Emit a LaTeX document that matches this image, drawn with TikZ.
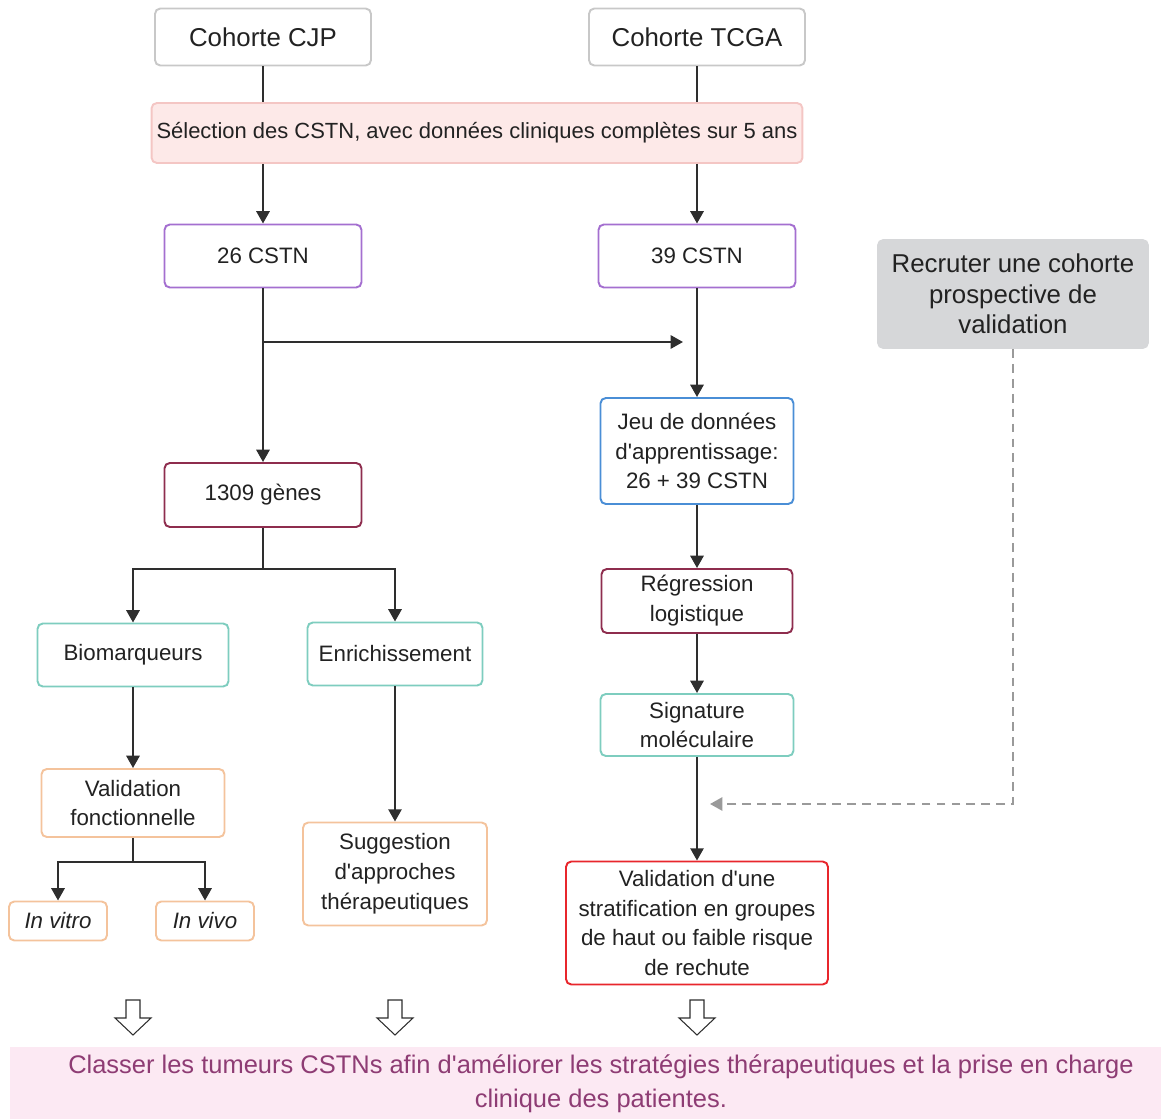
\documentclass[tikz,border=0pt]{standalone}
\usepackage{fontspec}
\setmainfont{Liberation Sans}
\usetikzlibrary{arrows.meta}

\definecolor{txtgray}{HTML}{222222}
\definecolor{linegray}{HTML}{2E2E2E}
\definecolor{boxgray}{HTML}{C8C8C8}
\definecolor{selfill}{HTML}{FDE9E8}
\definecolor{seldraw}{HTML}{F4C6C4}
\definecolor{cstnpurple}{HTML}{A46FD0}
\definecolor{maroon}{HTML}{8E2D4E}
\definecolor{tealc}{HTML}{7ECDBF}
\definecolor{orangec}{HTML}{F4C39C}
\definecolor{bluec}{HTML}{4A8ED6}
\definecolor{redc}{HTML}{E8262C}
\definecolor{recfill}{HTML}{D6D7D9}
\definecolor{dashgray}{HTML}{9A9A9A}
\definecolor{goalfill}{HTML}{FCE9F3}
\definecolor{goaltext}{HTML}{8E3C74}

\newcommand{\apos}{\textquotesingle}

\tikzset{
  box/.style={draw, rounded corners=3pt, line width=1.1pt, fill=white, align=center,
    text=txtgray, font=\fontsize{12.7}{17}\selectfont, inner sep=2pt},
  flow/.style={draw=linegray, line width=1.3pt, -{Triangle[length=7pt,width=7.5pt]}},
  link/.style={draw=linegray, line width=1.3pt},
}

\begin{document}
\begin{tikzpicture}[x=0.02cm, y=-0.02cm]
  \useasboundingbox (0,0) rectangle (1161,1119);

  % cohortes
  \node[box, draw=boxgray, minimum width=4.32cm, minimum height=1.14cm,
    font=\fontsize{14.7}{17}\selectfont] (cjp) at (263,37) {Cohorte CJP};
  \node[box, draw=boxgray, minimum width=4.32cm, minimum height=1.14cm,
    font=\fontsize{14.7}{17}\selectfont] (tcga) at (697,37) {Cohorte TCGA};
  \node[box, draw=seldraw, fill=selfill, minimum width=13.02cm, minimum height=1.2cm,
    inner xsep=0.5pt, font=\fontsize{12.5}{17}\selectfont] (sel)
    at (477,133) {Sélection des CSTN, avec données cliniques complètes sur 5 ans};

  \node[box, draw=cstnpurple, minimum width=3.94cm, minimum height=1.26cm] (cstna) at (263,256) {26 CSTN};
  \node[box, draw=cstnpurple, minimum width=3.94cm, minimum height=1.26cm] (cstnb) at (697,256) {39 CSTN};

  % branche droite
  \node[box, draw=bluec, minimum width=3.86cm, minimum height=2.12cm] (train) at (697,451)
    {Jeu de données\\ d\apos apprentissage:\\ 26 + 39 CSTN};
  \node[box, draw=maroon, minimum width=3.82cm, minimum height=1.28cm] (reg) at (697,601)
    {Régression\\ logistique};
  \node[box, draw=tealc, minimum width=3.86cm, minimum height=1.24cm] (sig) at (697,725)
    {Signature\\ moléculaire};
  \node[box, draw=redc, minimum width=5.24cm, minimum height=2.46cm] (valid) at (697,923)
    {Validation d\apos une\\ stratification en groupes\\ de haut ou faible risque\\ de rechute};
  \node[box, draw=recfill, fill=recfill, minimum width=5.4cm, minimum height=2.16cm,
    font=\fontsize{14.7}{17.5}\selectfont] (recruit) at (1013,294)
    {Recruter une cohorte\\ prospective de\\ validation};

  % branche gauche
  \node[box, draw=maroon, minimum width=3.94cm, minimum height=1.28cm] (genes) at (263,495) {1309 gènes};
  \node[box, draw=tealc, minimum width=3.82cm, minimum height=1.26cm] (bio) at (133,655) {Biomarqueurs};
  \node[box, draw=tealc, minimum width=3.5cm, minimum height=1.26cm] (enrich) at (395,654) {Enrichissement};
  \node[box, draw=orangec, minimum width=3.66cm, minimum height=1.36cm] (valfonc) at (133,803)
    {Validation\\ fonctionnelle};
  \node[box, draw=orangec, minimum width=1.96cm, minimum height=0.78cm] (vitro) at (58,921) {\itshape In vitro};
  \node[box, draw=orangec, minimum width=1.96cm, minimum height=0.78cm] (vivo) at (205,921) {\itshape In vivo};
  \node[box, draw=orangec, minimum width=3.68cm, minimum height=2.06cm] (sugg) at (395,874)
    {Suggestion\\ d\apos approches\\ thérapeutiques};

  % objectif
  \fill[goalfill] (10,1047) rectangle (1161,1119);
  \node[align=center, text=goaltext, font=\fontsize{14.5}{19.3}\selectfont] (goal) at (601,1084)
    {Classer les tumeurs CSTNs afin d\apos améliorer les stratégies thérapeutiques et la prise en charge\\ clinique des patientes.};

  \coordinate (mid) at (263,342);
  \coordinate (joinR) at (683,342);
  \coordinate (splitG) at (263,569);
  \coordinate (splitV) at (133,862);
  \coordinate (dashend) at (710,804);

  \draw[link] (cjp) -- (cjp |- sel.north);
  \draw[link] (tcga) -- (tcga |- sel.north);
  \draw[flow] (cjp |- sel.south) -- (cstna);
  \draw[flow] (tcga |- sel.south) -- (cstnb);
  \draw[flow] (cstna) -- (genes);
  \draw[flow] (mid) -- (joinR);
  \draw[flow] (cstnb) -- (train);
  \draw[flow] (train) -- (reg);
  \draw[flow] (reg) -- (sig);
  \draw[flow] (sig) -- (valid);
  \draw[link] (genes) -- (splitG);
  \draw[flow] (splitG) -| (bio);
  \draw[flow] (splitG) -| (enrich);
  \draw[flow] (bio) -- (valfonc);
  \draw[flow] (enrich) -- (sugg);
  \draw[link] (valfonc) -- (splitV);
  \draw[flow] (splitV) -| (vitro);
  \draw[flow] (splitV) -| (vivo);
  \draw[draw=dashgray, line width=1.1pt, dash pattern=on 5pt off 3.5pt,
    -{Triangle[length=7pt,width=7.5pt]}] (recruit.south) |- (dashend);

  % fleches creuses
  \foreach \x in {133,395,697}
    \draw[draw=linegray, line width=0.6pt, fill=white]
      (\x-7,1000) -- (\x+7,1000) -- (\x+7,1018) -- (\x+18,1018) -- (\x,1035)
      -- (\x-18,1018) -- (\x-7,1018) -- cycle;
\end{tikzpicture}
\end{document}
